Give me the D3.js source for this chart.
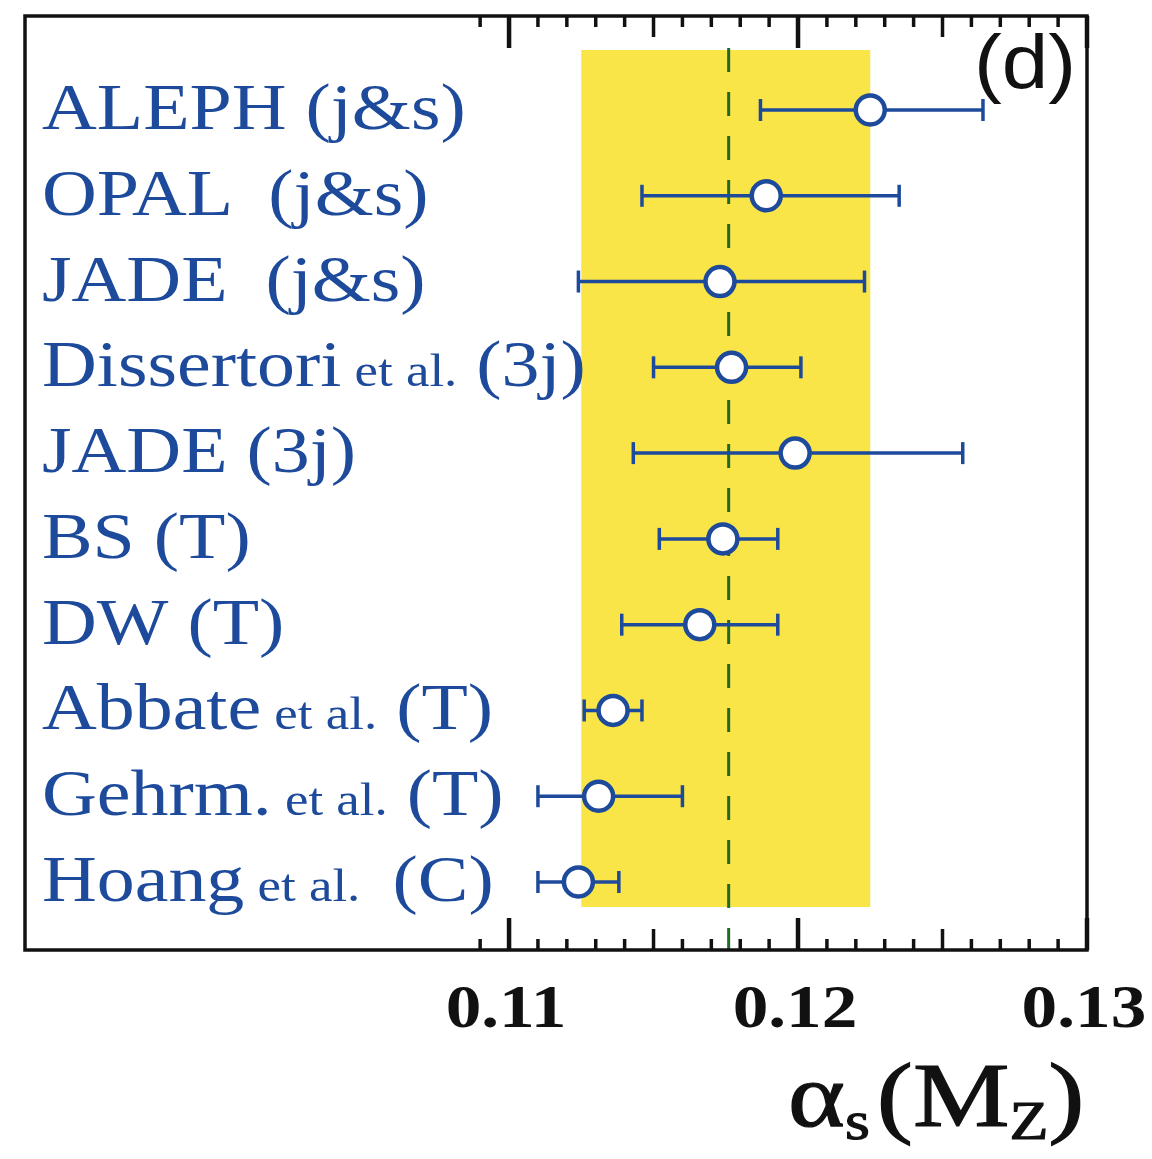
<!DOCTYPE html>
<html><head><meta charset="utf-8">
<script src="https://cdn.jsdelivr.net/npm/d3@7"></script>
<style>body{margin:0;background:#fff}</style>
</head><body>
<svg id="chart" width="1152" height="1159"></svg>
<script>
const labelsMain = ["ALEPH", "OPAL ", "JADE ", "Dissertori", "JADE", "BS", "DW", "Abbate", "Gehrm.", "Hoang"];
const labelsEtal = ["", "", "", " et al.", "", "", "", " et al.", " et al.", " et al. "];
const labelsTail = [" (j&s)", " (j&s)", " (j&s)", " (3j)", " (3j)", " (T)", " (T)", " (T)", " (T)", " (C)"];
const centers = [0.1225, 0.1189, 0.1173, 0.1177, 0.1199, 0.1174, 0.1166, 0.1136, 0.1131, 0.1124];
const lows    = [0.1187, 0.1146, 0.1124, 0.1150, 0.1143, 0.1152, 0.1139, 0.1126, 0.1110, 0.1110];
const highs   = [0.1264, 0.1235, 0.1223, 0.1201, 0.1257, 0.1193, 0.1193, 0.1146, 0.1160, 0.1138];
const bandLow = 0.1125, bandHigh = 0.1225, refValue = 0.1176;
const tickLabels = ["0.11", "0.12", "0.13"];
const tickValues = [0.11, 0.12, 0.13];

const svg = d3.select("#chart");
const L = 25, R = 1087, T = 16, B = 950;
const x = d3.scaleLinear().domain([0.09325, 0.13]).range([L, R]);
const ids = d3.range(labelsMain.length);
const y = d3.scalePoint().domain(ids).range([110, 882]);
const blue = "#1d4a9b";

// band
svg.append("rect").attr("x", x(bandLow)).attr("y", 50).attr("width", x(bandHigh) - x(bandLow)).attr("height", 907 - 50).attr("fill", "#f9e547");
// dashed ref
svg.append("line").attr("x1", x(refValue)).attr("x2", x(refValue)).attr("y1", 48).attr("y2", B)
  .attr("stroke", "#1f6b25").attr("stroke-width", 3).attr("stroke-dasharray", "24,20");

// ticks
const allTicks = d3.range(109, 131).map(v => v / 1000);
function tickLen(v) {
  const k = Math.round(v * 1000);
  if (k % 10 === 0) return 32;
  if (k % 5 === 0) return 21;
  return 11;
}
const tg = svg.append("g");
allTicks.forEach(v => {
  const len = tickLen(v), w = len > 25 ? 4.5 : 3.5;
  tg.append("line").attr("x1", x(v)).attr("x2", x(v)).attr("y1", T).attr("y2", T + len).attr("stroke", "#111").attr("stroke-width", w);
  tg.append("line").attr("x1", x(v)).attr("x2", x(v)).attr("y1", B).attr("y2", B - len).attr("stroke", "#111").attr("stroke-width", w);
});

// frame
svg.append("rect").attr("x", L).attr("y", T).attr("width", R - L).attr("height", B - T)
  .attr("fill", "none").attr("stroke", "#111").attr("stroke-width", 3.5);

// tick labels
tickValues.forEach((v, i) => {
  svg.append("text").attr("transform", `translate(${x(v) - 3},1027) scale(1.15,1)`)
    .attr("text-anchor", "middle").attr("font-family", "Liberation Serif, serif").attr("font-weight", "bold")
    .attr("font-size", 62).attr("fill", "#111").text(tickLabels[i]);
});

// error bars
const eg = svg.append("g");
ids.forEach(i => {
  const yy = y(i);
  eg.append("line").attr("x1", x(lows[i])).attr("x2", x(highs[i])).attr("y1", yy).attr("y2", yy).attr("stroke", blue).attr("stroke-width", 3.5);
  [lows[i], highs[i]].forEach(v => eg.append("line").attr("x1", x(v)).attr("x2", x(v)).attr("y1", yy - 11).attr("y2", yy + 11).attr("stroke", blue).attr("stroke-width", 3.5));
  eg.append("circle").attr("cx", x(centers[i])).attr("cy", yy).attr("r", 14.5).attr("fill", "#fff").attr("stroke", blue).attr("stroke-width", 4.5);
});

// labels
ids.forEach(i => {
  const t = svg.append("text").attr("transform", `translate(42,${y(i) + 19}) scale(1.15,1)`)
    .attr("font-family", "Liberation Serif, serif").attr("fill", blue).attr("xml:space", "preserve").style("white-space", "pre");
  t.append("tspan").attr("font-size", 66).text(labelsMain[i]);
  if (labelsEtal[i]) t.append("tspan").attr("font-size", 46).text(labelsEtal[i]);
  t.append("tspan").attr("font-size", 66).text(labelsTail[i]);
});

// (d)
svg.append("text").attr("transform", "translate(974,88) scale(1.1,1)").attr("font-family", "Liberation Sans, Arial, sans-serif")
  .attr("font-size", 76).attr("fill", "#111").text("(d)");

// axis title
const at = svg.append("text").attr("transform", "translate(788,1126) scale(1.18,1)")
  .attr("font-family", "Liberation Serif, serif").attr("fill", "#111").attr("stroke", "#111").attr("stroke-width", 1.2);
at.append("tspan").attr("font-size", 92).text("α");
at.append("tspan").attr("font-size", 54).attr("dy", 13).text("s");
at.append("tspan").attr("font-size", 92).attr("dy", -13).attr("dx", 6).text("(M");
at.append("tspan").attr("font-size", 54).attr("dy", 13).text("Z");
at.append("tspan").attr("font-size", 92).attr("dy", -13).text(")");
</script>
</body></html>
